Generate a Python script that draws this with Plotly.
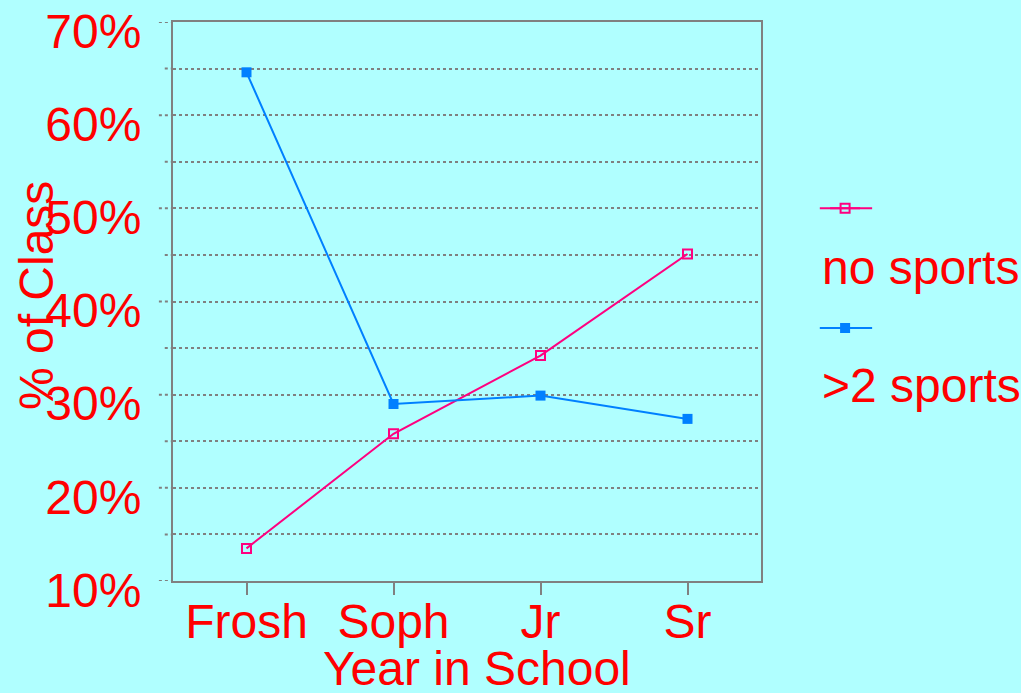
import plotly.graph_objects as go

years = ["Frosh", "Soph", "Jr", "Sr"]
no_sports = [13.5, 25.8, 34.2, 45.1]
more_than_2 = [64.6, 29.0, 29.9, 27.4]
y_ticks = [10, 20, 30, 40, 50, 60, 70]
y_tick_labels = ["10%", "20%", "30%", "40%", "50%", "60%", "70%"]
grid_levels = [10, 15, 20, 25, 30, 35, 40, 45, 50, 55, 60, 65, 70]

RED = "#FF0000"
GREY = "#808080"
BG = "#B0FFFF"
PINK = "#FF0080"
BLUE = "#0080FF"
FONT = "Liberation Sans"
FS = 48

fig = go.Figure()
fig.add_trace(go.Scatter(
    x=years, y=no_sports, mode="lines+markers", name=" ",
    line=dict(color=PINK, width=2),
    marker=dict(symbol="square-open", size=9, color=PINK, line=dict(width=2, color=PINK)),
    legend="legend", showlegend=True,
))
fig.add_trace(go.Scatter(
    x=years, y=more_than_2, mode="lines+markers", name=" ",
    line=dict(color=BLUE, width=2),
    marker=dict(symbol="square", size=10, color=BLUE),
    legend="legend2", showlegend=True,
))

shapes = []
for v in grid_levels:
    major = v in y_ticks
    shapes.append(dict(type="line", xref="paper", yref="y",
                       x0=-0.024 if major else -0.014, x1=0, y0=v, y1=v,
                       line=dict(color=GREY, width=2, dash="dot"), layer="below"))
# legend line extensions
for col, yy in [(PINK, 0.667), (BLUE, 0.4526)]:
    shapes.append(dict(type="line", xref="paper", yref="paper",
                       x0=1.100, x1=1.189, y0=yy, y1=yy,
                       line=dict(color=col, width=2)))

fig.update_layout(
    width=1021, height=693,
    margin=dict(l=173, r=260, t=22, b=112, autoexpand=False),
    paper_bgcolor=BG, plot_bgcolor=BG,
    font=dict(family=FONT, color=RED, size=FS),
    showlegend=True,
    shapes=shapes,
    legend=dict(x=1.109, y=0.667, xanchor="left", yanchor="middle",
                bgcolor="rgba(0,0,0,0)", font=dict(size=12), itemwidth=30),
    legend2=dict(x=1.109, y=0.4526, xanchor="left", yanchor="middle",
                 bgcolor="rgba(0,0,0,0)", font=dict(size=12), itemwidth=30),
    annotations=[
        dict(text="no sports", xref="paper", yref="paper", x=1.100, y=0.5617,
             xanchor="left", yanchor="middle", showarrow=False,
             font=dict(size=FS, color=RED, family=FONT)),
        dict(text=">2 sports", xref="paper", yref="paper", x=1.100, y=0.3506,
             xanchor="left", yanchor="middle", showarrow=False,
             font=dict(size=FS, color=RED, family=FONT)),
        dict(text="% of Class", xref="paper", yref="paper", x=-0.231, y=0.51,
             xanchor="center", yanchor="middle", textangle=-90, showarrow=False,
             font=dict(size=FS, color=RED, family=FONT)),
        dict(text="Year in School", xref="paper", yref="paper", x=0.517, y=-0.156,
             xanchor="center", yanchor="middle", showarrow=False,
             font=dict(size=FS, color=RED, family=FONT)),
    ],
)
fig.update_xaxes(
    type="category", range=[-0.5, 3.5], automargin=False,
    showline=True, linecolor=GREY, linewidth=2, mirror=True,
    ticks="outside", ticklen=12, tickwidth=2, tickcolor=GREY,
    ticklabelstandoff=-15,
    showgrid=False, zeroline=False,
    tickfont=dict(size=FS, color=RED, family=FONT),
)
fig.update_yaxes(
    range=[10, 70], tickvals=y_ticks, ticktext=y_tick_labels, automargin=False,
    showline=True, linecolor=GREY, linewidth=2, mirror=True,
    ticks="", ticklabelstandoff=20, ticklabelshift=9,
    showgrid=True, gridcolor=GREY, griddash="dot", gridwidth=2,
    minor=dict(dtick=5, tick0=10, showgrid=True, gridcolor=GREY, griddash="dot", gridwidth=2),
    zeroline=False,
    tickfont=dict(size=FS, color=RED, family=FONT),
)

fig.write_html("out.html", config={"displayModeBar": False},
               post_script="document.body.style.margin='0';document.body.style.background='" + BG + "';")
